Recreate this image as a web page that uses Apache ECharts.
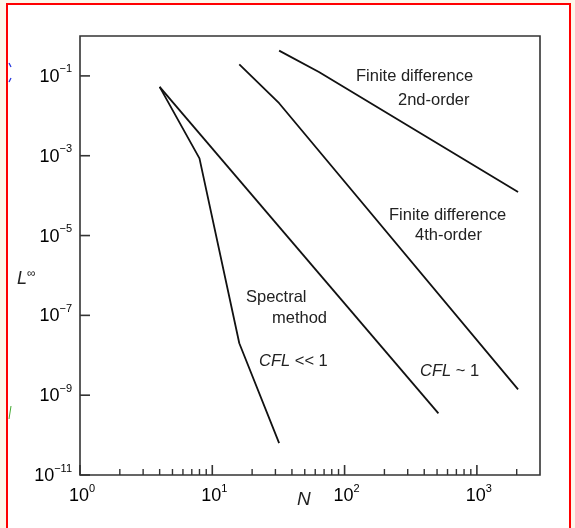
<!DOCTYPE html>
<html><head><meta charset="utf-8">
<script src="https://cdn.jsdelivr.net/npm/echarts@6/dist/echarts.min.js"></script>
<style>html,body{margin:0;padding:0;background:#fdf6ea;} #c{width:575px;height:528px;}</style>
</head><body><div id="c"></div>
<script>
// ---- data ----
const spectralN = [4, 8, 16, 32];
const spectralL = [0.053, 8.6e-4, 2.0e-8, 6.3e-11];
const cflN = [4, 512];
const cflL = [0.053, 3.5e-10];
const fd4N = [16, 32, 2048];
const fd4L = [0.195, 0.0207, 1.4e-9];
const fd2N = [32, 64, 2048];
const fd2L = [0.43, 0.125, 1.23e-4];

// ---- axis ticks ----
const xMin = 1, xMax = 3000, yMin = 1e-11, yMax = 1;
const xMajorTicks = [1, 10, 100, 1000];
const xTickLabels = ['0', '1', '2', '3'];
const xMinorTicks = [2,3,4,5,6,7,8,9,20,30,40,50,60,70,80,90,200,300,400,500,600,700,800,900,2000];
const yMajorTicks = [1e-11, 1e-9, 1e-7, 1e-5, 1e-3, 1e-1];
const yTickLabels = ['\u221211', '\u22129', '\u22127', '\u22125', '\u22123', '\u22121'];

const FONT = '"Liberation Sans", Arial, sans-serif';
const AX = '#333';
const LINE = '#111';
const TXT = '#222';

const rich = {
  b: { fontSize: 18, fontFamily: FONT, color: TXT, lineHeight: 22, verticalAlign: 'bottom' },
  s: { fontSize: 11, fontFamily: FONT, color: TXT, lineHeight: 12, verticalAlign: 'top' }
};

function pairs(xs, ys) { return xs.map((x, i) => [x, ys[i]]); }
function lineSeries(name, xs, ys) {
  return { name, type: 'line', data: pairs(xs, ys), showSymbol: false, symbol: 'none',
    lineStyle: { color: LINE, width: 1.8 }, z: 5, animation: false, silent: true };
}

const chart = echarts.init(document.getElementById('c'), null, { renderer: 'canvas' });
chart.setOption({
  animation: false,
  backgroundColor: 'transparent',
  grid: { left: 80, right: 35, top: 36, bottom: 53, show: true, borderColor: AX, borderWidth: 1.6, backgroundColor: 'transparent' },
  xAxis: { type: 'log', logBase: 10, min: xMin, max: xMax,
    axisLine: { show: false }, axisTick: { show: false }, axisLabel: { show: false }, splitLine: { show: false } },
  yAxis: { type: 'log', logBase: 10, min: yMin, max: yMax,
    axisLine: { show: false }, axisTick: { show: false }, axisLabel: { show: false }, splitLine: { show: false } },
  graphic: [
    { type: 'rect', z: -100, shape: { x: 7, y: 4, width: 563, height: 540 },
      style: { fill: '#ffffff', stroke: '#ff0000', lineWidth: 2 } },
    { type: 'line', shape: { x1: 9, y1: 63, x2: 11, y2: 67 }, style: { stroke: '#2233dd', lineWidth: 1.2 } },
    { type: 'line', shape: { x1: 11, y1: 78, x2: 9, y2: 82 }, style: { stroke: '#2233dd', lineWidth: 1.2 } },
    { type: 'line', shape: { x1: 9, y1: 419, x2: 11, y2: 406 }, style: { stroke: '#44aa33', lineWidth: 1 } },
    { type: 'text', x: 356, y: 76, style: { text: 'Finite difference', font: '16.5px ' + FONT, fill: TXT, verticalAlign: 'middle' } },
    { type: 'text', x: 398, y: 100, style: { text: '2nd-order', font: '16.5px ' + FONT, fill: TXT, verticalAlign: 'middle' } },
    { type: 'text', x: 389, y: 215, style: { text: 'Finite difference', font: '16.5px ' + FONT, fill: TXT, verticalAlign: 'middle' } },
    { type: 'text', x: 415, y: 235, style: { text: '4th-order', font: '16.5px ' + FONT, fill: TXT, verticalAlign: 'middle' } },
    { type: 'text', x: 246, y: 297, style: { text: 'Spectral', font: '16.5px ' + FONT, fill: TXT, verticalAlign: 'middle' } },
    { type: 'text', x: 272, y: 318, style: { text: 'method', font: '16.5px ' + FONT, fill: TXT, verticalAlign: 'middle' } },
    { type: 'text', x: 259, y: 361, style: { text: '{i|CFL} << 1', fontSize: 16.5, fontFamily: FONT, fill: TXT, verticalAlign: 'middle',
        rich: { i: { fontStyle: 'italic', fontSize: 16.5, fontFamily: FONT, color: TXT } } } },
    { type: 'text', x: 420, y: 371, style: { text: '{i|CFL} ~ 1', fontSize: 16.5, fontFamily: FONT, fill: TXT, verticalAlign: 'middle',
        rich: { i: { fontStyle: 'italic', fontSize: 16.5, fontFamily: FONT, color: TXT } } } },
    { type: 'text', x: 297, y: 500, style: { text: 'N', font: 'italic 19px ' + FONT, fill: TXT, verticalAlign: 'middle' } },
    { type: 'text', x: 17, y: 278, style: { text: '{l|L}{s|\u221e}', fill: TXT, verticalAlign: 'middle',
        rich: { l: { fontStyle: 'italic', fontSize: 18, fontFamily: FONT, color: TXT, lineHeight: 20, verticalAlign: 'bottom' },
                 s: { fontSize: 12, fontFamily: FONT, color: TXT, lineHeight: 12, verticalAlign: 'top' } } } }
  ],
  series: [
    lineSeries('Spectral', spectralN, spectralL),
    lineSeries('CFL~1', cflN, cflL),
    lineSeries('FD4', fd4N, fd4L),
    lineSeries('FD2', fd2N, fd2L),
    { type: 'custom', coordinateSystem: 'cartesian2d', silent: true, z: 4, animation: false,
      data: xMajorTicks.map(v => [v, yMin]),
      renderItem: (params, api) => {
        const p = api.coord([api.value(0), yMin]);
        const lab = xTickLabels[params.dataIndex];
        return { type: 'group', children: [
          { type: 'line', shape: { x1: p[0], y1: p[1], x2: p[0], y2: p[1] - 10 }, style: { stroke: AX, lineWidth: 1.6 } },
          { type: 'text', x: p[0] + 2, y: p[1] + 8.5, style: { text: '{b|10}{s|' + lab + '}', rich, align: 'center', verticalAlign: 'top' } }
        ] };
      } },
    { type: 'custom', coordinateSystem: 'cartesian2d', silent: true, z: 4, animation: false,
      data: xMinorTicks.map(v => [v, yMin]),
      renderItem: (params, api) => {
        const p = api.coord([api.value(0), yMin]);
        return { type: 'line', shape: { x1: p[0], y1: p[1], x2: p[0], y2: p[1] - 6 }, style: { stroke: AX, lineWidth: 1.4 } };
      } },
    { type: 'custom', coordinateSystem: 'cartesian2d', silent: true, z: 4, animation: false,
      data: yMajorTicks.map(v => [xMin, v]),
      renderItem: (params, api) => {
        const p = api.coord([xMin, api.value(1)]);
        const lab = yTickLabels[params.dataIndex];
        return { type: 'group', children: [
          { type: 'line', shape: { x1: p[0], y1: p[1], x2: p[0] + 10, y2: p[1] }, style: { stroke: AX, lineWidth: 1.6 } },
          { type: 'text', x: p[0] - 8, y: p[1] - 12, style: { text: '{b|10}{s|' + lab + '}', rich, align: 'right', verticalAlign: 'top' } }
        ] };
      } }
  ]
});
</script>
</body></html>
